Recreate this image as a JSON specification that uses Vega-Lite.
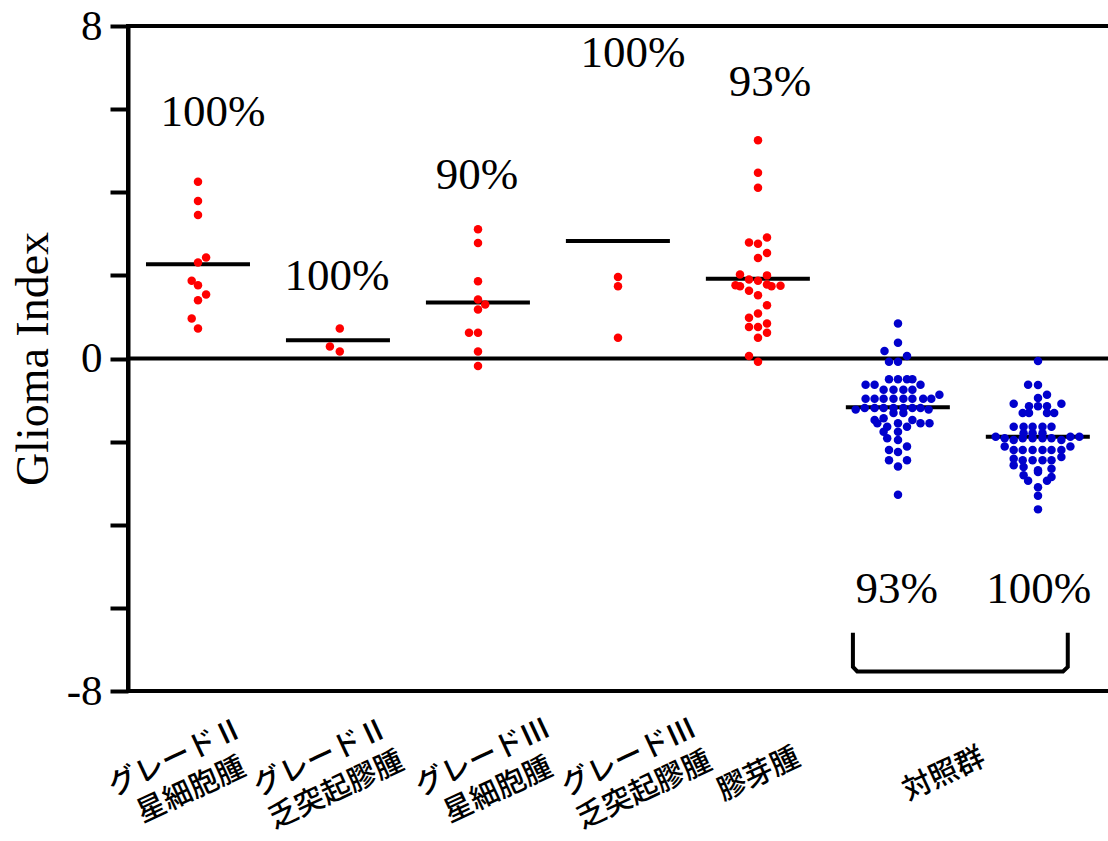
{
  "$schema": "https://vega.github.io/schema/vega-lite/v6.json",
  "autosize": "none",
  "width": 984,
  "height": 665,
  "padding": {"left": 128, "top": 26, "right": 0, "bottom": 150},
  "background": "white",
  "config": {"view": {"stroke": "black", "strokeWidth": 4}},
  "resolve": {"scale": {"x": "independent"}},
  "datasets": {
    "pts": [
      {"group":1,"value":4.25,"slot":0,"type":"tumor"},
      {"group":1,"value":3.79,"slot":0,"type":"tumor"},
      {"group":1,"value":3.45,"slot":0,"type":"tumor"},
      {"group":1,"value":2.43,"slot":0.9,"type":"tumor"},
      {"group":1,"value":2.31,"slot":0,"type":"tumor"},
      {"group":1,"value":1.87,"slot":-0.7,"type":"tumor"},
      {"group":1,"value":1.76,"slot":0,"type":"tumor"},
      {"group":1,"value":1.54,"slot":0.9,"type":"tumor"},
      {"group":1,"value":1.40,"slot":0,"type":"tumor"},
      {"group":1,"value":0.96,"slot":-0.7,"type":"tumor"},
      {"group":1,"value":0.72,"slot":0,"type":"tumor"},
      {"group":2,"value":0.72,"slot":0.2,"type":"tumor"},
      {"group":2,"value":0.29,"slot":-0.9,"type":"tumor"},
      {"group":2,"value":0.17,"slot":0.2,"type":"tumor"},
      {"group":3,"value":3.11,"slot":0,"type":"tumor"},
      {"group":3,"value":2.78,"slot":0,"type":"tumor"},
      {"group":3,"value":1.86,"slot":0,"type":"tumor"},
      {"group":3,"value":1.42,"slot":0,"type":"tumor"},
      {"group":3,"value":1.30,"slot":0.8,"type":"tumor"},
      {"group":3,"value":1.18,"slot":0,"type":"tumor"},
      {"group":3,"value":0.62,"slot":-1,"type":"tumor"},
      {"group":3,"value":0.62,"slot":0,"type":"tumor"},
      {"group":3,"value":0.17,"slot":0,"type":"tumor"},
      {"group":3,"value":-0.18,"slot":0,"type":"tumor"},
      {"group":4,"value":1.96,"slot":0,"type":"tumor"},
      {"group":4,"value":1.74,"slot":0,"type":"tumor"},
      {"group":4,"value":0.50,"slot":0,"type":"tumor"},
      {"group":5,"value":5.25,"slot":0,"type":"tumor"},
      {"group":5,"value":4.47,"slot":0,"type":"tumor"},
      {"group":5,"value":4.11,"slot":0,"type":"tumor"},
      {"group":5,"value":2.91,"slot":1,"type":"tumor"},
      {"group":5,"value":2.79,"slot":-1,"type":"tumor"},
      {"group":5,"value":2.76,"slot":0,"type":"tumor"},
      {"group":5,"value":2.54,"slot":1,"type":"tumor"},
      {"group":5,"value":2.42,"slot":0,"type":"tumor"},
      {"group":5,"value":2.02,"slot":-2,"type":"tumor"},
      {"group":5,"value":2.00,"slot":1,"type":"tumor"},
      {"group":5,"value":1.90,"slot":-1,"type":"tumor"},
      {"group":5,"value":1.87,"slot":0,"type":"tumor"},
      {"group":5,"value":1.76,"slot":-2.5,"type":"tumor"},
      {"group":5,"value":1.74,"slot":-2,"type":"tumor"},
      {"group":5,"value":1.78,"slot":1,"type":"tumor"},
      {"group":5,"value":1.74,"slot":1.5,"type":"tumor"},
      {"group":5,"value":1.75,"slot":2.5,"type":"tumor"},
      {"group":5,"value":1.63,"slot":-1,"type":"tumor"},
      {"group":5,"value":1.52,"slot":0,"type":"tumor"},
      {"group":5,"value":1.28,"slot":1,"type":"tumor"},
      {"group":5,"value":1.08,"slot":0,"type":"tumor"},
      {"group":5,"value":0.98,"slot":-1,"type":"tumor"},
      {"group":5,"value":0.76,"slot":-1,"type":"tumor"},
      {"group":5,"value":0.76,"slot":0,"type":"tumor"},
      {"group":5,"value":0.84,"slot":1,"type":"tumor"},
      {"group":5,"value":0.62,"slot":1,"type":"tumor"},
      {"group":5,"value":0.50,"slot":0,"type":"tumor"},
      {"group":5,"value":0.06,"slot":-1,"type":"tumor"},
      {"group":5,"value":-0.08,"slot":0,"type":"tumor"},
      {"group":6,"value":0.84,"slot":0,"type":"control"},
      {"group":6,"value":0.38,"slot":0,"type":"control"},
      {"group":6,"value":0.18,"slot":-1.5,"type":"control"},
      {"group":6,"value":0.06,"slot":1,"type":"control"},
      {"group":6,"value":-0.08,"slot":-1,"type":"control"},
      {"group":6,"value":-0.08,"slot":0,"type":"control"},
      {"group":6,"value":-0.50,"slot":-1,"type":"control"},
      {"group":6,"value":-0.50,"slot":0,"type":"control"},
      {"group":6,"value":-0.50,"slot":1,"type":"control"},
      {"group":6,"value":-0.50,"slot":1.6,"type":"control"},
      {"group":6,"value":-0.63,"slot":-3.6,"type":"control"},
      {"group":6,"value":-0.63,"slot":-2.6,"type":"control"},
      {"group":6,"value":-0.63,"slot":2.5,"type":"control"},
      {"group":6,"value":-0.75,"slot":-1.6,"type":"control"},
      {"group":6,"value":-0.75,"slot":-0.5,"type":"control"},
      {"group":6,"value":-0.75,"slot":0.6,"type":"control"},
      {"group":6,"value":-0.75,"slot":1.6,"type":"control"},
      {"group":6,"value":-0.97,"slot":-3.6,"type":"control"},
      {"group":6,"value":-0.97,"slot":-2.6,"type":"control"},
      {"group":6,"value":-0.97,"slot":-1.6,"type":"control"},
      {"group":6,"value":-0.97,"slot":-0.5,"type":"control"},
      {"group":6,"value":-0.97,"slot":0.6,"type":"control"},
      {"group":6,"value":-0.97,"slot":1.6,"type":"control"},
      {"group":6,"value":-0.97,"slot":2.8,"type":"control"},
      {"group":6,"value":-0.97,"slot":3.7,"type":"control"},
      {"group":6,"value":-0.87,"slot":4.6,"type":"control"},
      {"group":6,"value":-1.23,"slot":-4.7,"type":"control"},
      {"group":6,"value":-1.19,"slot":-3.7,"type":"control"},
      {"group":6,"value":-1.19,"slot":-2.6,"type":"control"},
      {"group":6,"value":-1.19,"slot":-1.6,"type":"control"},
      {"group":6,"value":-1.19,"slot":-0.5,"type":"control"},
      {"group":6,"value":-1.19,"slot":0.6,"type":"control"},
      {"group":6,"value":-1.19,"slot":1.6,"type":"control"},
      {"group":6,"value":-1.19,"slot":2.5,"type":"control"},
      {"group":6,"value":-1.23,"slot":3.4,"type":"control"},
      {"group":6,"value":-1.48,"slot":-2.6,"type":"control"},
      {"group":6,"value":-1.44,"slot":-1.6,"type":"control"},
      {"group":6,"value":-1.31,"slot":-0.5,"type":"control"},
      {"group":6,"value":-1.31,"slot":0.6,"type":"control"},
      {"group":6,"value":-1.48,"slot":1.6,"type":"control"},
      {"group":6,"value":-1.56,"slot":2.5,"type":"control"},
      {"group":6,"value":-1.56,"slot":3.5,"type":"control"},
      {"group":6,"value":-1.56,"slot":-2.3,"type":"control"},
      {"group":6,"value":-1.64,"slot":-1.2,"type":"control"},
      {"group":6,"value":-1.56,"slot":0,"type":"control"},
      {"group":6,"value":-1.64,"slot":1,"type":"control"},
      {"group":6,"value":-1.76,"slot":-1.6,"type":"control"},
      {"group":6,"value":-1.76,"slot":0,"type":"control"},
      {"group":6,"value":-1.92,"slot":-1.2,"type":"control"},
      {"group":6,"value":-1.96,"slot":0,"type":"control"},
      {"group":6,"value":-2.20,"slot":-1,"type":"control"},
      {"group":6,"value":-2.12,"slot":1,"type":"control"},
      {"group":6,"value":-2.25,"slot":0,"type":"control"},
      {"group":6,"value":-2.45,"slot":-1,"type":"control"},
      {"group":6,"value":-2.45,"slot":1,"type":"control"},
      {"group":6,"value":-2.60,"slot":0,"type":"control"},
      {"group":6,"value":-3.28,"slot":0,"type":"control"},
      {"group":7,"value":-0.06,"slot":0,"type":"control"},
      {"group":7,"value":-0.63,"slot":-1.1,"type":"control"},
      {"group":7,"value":-0.64,"slot":0,"type":"control"},
      {"group":7,"value":-0.95,"slot":0,"type":"control"},
      {"group":7,"value":-0.87,"slot":1,"type":"control"},
      {"group":7,"value":-1.09,"slot":-2.7,"type":"control"},
      {"group":7,"value":-1.15,"slot":-1,"type":"control"},
      {"group":7,"value":-1.15,"slot":0,"type":"control"},
      {"group":7,"value":-1.15,"slot":1,"type":"control"},
      {"group":7,"value":-1.09,"slot":2.6,"type":"control"},
      {"group":7,"value":-1.31,"slot":-1.7,"type":"control"},
      {"group":7,"value":-1.31,"slot":-1,"type":"control"},
      {"group":7,"value":-1.31,"slot":1,"type":"control"},
      {"group":7,"value":-1.31,"slot":1.8,"type":"control"},
      {"group":7,"value":-1.64,"slot":-2.7,"type":"control"},
      {"group":7,"value":-1.64,"slot":-1.6,"type":"control"},
      {"group":7,"value":-1.64,"slot":-0.6,"type":"control"},
      {"group":7,"value":-1.64,"slot":0.5,"type":"control"},
      {"group":7,"value":-1.64,"slot":1.5,"type":"control"},
      {"group":7,"value":-1.80,"slot":-1.6,"type":"control"},
      {"group":7,"value":-1.80,"slot":-0.6,"type":"control"},
      {"group":7,"value":-1.80,"slot":0.5,"type":"control"},
      {"group":7,"value":-1.88,"slot":-4.7,"type":"control"},
      {"group":7,"value":-1.92,"slot":-3.7,"type":"control"},
      {"group":7,"value":-1.96,"slot":-2.7,"type":"control"},
      {"group":7,"value":-1.92,"slot":-1.7,"type":"control"},
      {"group":7,"value":-1.92,"slot":-0.6,"type":"control"},
      {"group":7,"value":-1.92,"slot":0.5,"type":"control"},
      {"group":7,"value":-1.92,"slot":1.5,"type":"control"},
      {"group":7,"value":-1.96,"slot":2.6,"type":"control"},
      {"group":7,"value":-1.88,"slot":3.6,"type":"control"},
      {"group":7,"value":-1.88,"slot":4.6,"type":"control"},
      {"group":7,"value":-2.12,"slot":-3.7,"type":"control"},
      {"group":7,"value":-2.20,"slot":-2.7,"type":"control"},
      {"group":7,"value":-2.20,"slot":-1.7,"type":"control"},
      {"group":7,"value":-2.20,"slot":-0.6,"type":"control"},
      {"group":7,"value":-2.20,"slot":0.5,"type":"control"},
      {"group":7,"value":-2.20,"slot":1.5,"type":"control"},
      {"group":7,"value":-2.20,"slot":2.6,"type":"control"},
      {"group":7,"value":-2.12,"slot":3.6,"type":"control"},
      {"group":7,"value":-2.41,"slot":-2.7,"type":"control"},
      {"group":7,"value":-2.45,"slot":-1.7,"type":"control"},
      {"group":7,"value":-2.45,"slot":-0.6,"type":"control"},
      {"group":7,"value":-2.45,"slot":0.5,"type":"control"},
      {"group":7,"value":-2.45,"slot":1.5,"type":"control"},
      {"group":7,"value":-2.37,"slot":2.6,"type":"control"},
      {"group":7,"value":-2.57,"slot":-2.7,"type":"control"},
      {"group":7,"value":-2.61,"slot":-1.6,"type":"control"},
      {"group":7,"value":-2.69,"slot":0,"type":"control"},
      {"group":7,"value":-2.65,"slot":1.5,"type":"control"},
      {"group":7,"value":-2.81,"slot":-1.6,"type":"control"},
      {"group":7,"value":-2.73,"slot":0,"type":"control"},
      {"group":7,"value":-2.85,"slot":1.5,"type":"control"},
      {"group":7,"value":-2.94,"slot":-1.1,"type":"control"},
      {"group":7,"value":-2.94,"slot":1,"type":"control"},
      {"group":7,"value":-3.10,"slot":0,"type":"control"},
      {"group":7,"value":-3.30,"slot":0,"type":"control"},
      {"group":7,"value":-3.63,"slot":0,"type":"control"}
    ],
    "means": [
      {"group":1,"mean":2.27},
      {"group":2,"mean":0.44},
      {"group":3,"mean":1.35},
      {"group":4,"mean":2.83},
      {"group":5,"mean":1.92},
      {"group":6,"mean":-1.17},
      {"group":7,"mean":-1.88}
    ],
    "pct": [
      {"x":1.107,"y":5.6,"text":"100%"},
      {"x":1.993,"y":1.65,"text":"100%"},
      {"x":2.993,"y":4.09,"text":"90%"},
      {"x":4.107,"y":7.01,"text":"100%"},
      {"x":5.086,"y":6.32,"text":"93%"},
      {"x":5.993,"y":-5.89,"text":"93%"},
      {"x":7.007,"y":-5.89,"text":"100%"}
    ],
    "cats": [
      {"x":0.843,"y":-9.6,"label":"グレードⅡ\n星細胞腫"},
      {"x":1.879,"y":-9.6,"label":"グレードⅡ\n乏突起膠腫"},
      {"x":3.036,"y":-9.6,"label":"グレードⅢ\n星細胞腫"},
      {"x":4.079,"y":-9.6,"label":"グレードⅢ\n乏突起膠腫"},
      {"x":5.007,"y":-10.0,"label":"膠芽腫"},
      {"x":6.329,"y":-10.0,"label":"対照群"}
    ],
    "bracket": [
      {"order":1,"x":5.679,"y":-6.6},
      {"order":2,"x":5.679,"y":-7.42},
      {"order":3,"x":5.71,"y":-7.53},
      {"order":4,"x":7.18,"y":-7.53},
      {"order":5,"x":7.214,"y":-7.42},
      {"order":6,"x":7.214,"y":-6.6}
    ]
  },
  "layer": [
    {
      "data": {"values": [{"zero": 0}]},
      "mark": {"type": "rule", "color": "black", "strokeWidth": 4},
      "encoding": {
        "y": {"field": "zero", "type": "quantitative", "scale": {"domain": [-8, 8], "nice": false, "zero": false}, "title": "Glioma Index"}
      }
    },
    {
      "data": {"name": "means"},
      "mark": {"type": "tick", "orient": "horizontal", "color": "black", "size": 104, "thickness": 4, "opacity": 1},
      "encoding": {
        "x": {"field": "group", "type": "quantitative", "scale": {"domain": [0.5, 7.53], "nice": false, "zero": false}, "axis": null},
        "y": {"field": "mean", "type": "quantitative", "scale": {"domain": [-8, 8], "nice": false, "zero": false}, "title": "Glioma Index"}
      }
    },
    {
      "data": {"name": "pts"},
      "mark": {"type": "circle", "size": 72, "opacity": 1, "strokeWidth": 0},
      "encoding": {
        "x": {"field": "group", "type": "ordinal", "scale": {"range": [0, 980], "paddingInner": 0, "paddingOuter": 0}, "axis": null},
        "xOffset": {"field": "slot", "type": "quantitative", "scale": {"domain": [-7.778, 7.778], "range": [0, 140]}},
        "y": {
          "field": "value", "type": "quantitative",
          "scale": {"domain": [-8, 8], "nice": false, "zero": false},
          "title": "Glioma Index",
          "axis": {
            "values": [-8, -6, -4, -2, 0, 2, 4, 6, 8],
            "labelExpr": "datum.value % 8 === 0 ? '' + datum.value : ''",
            "grid": false,
            "domain": true, "domainColor": "black", "domainWidth": 4,
            "ticks": true, "tickColor": "black", "tickWidth": 4, "tickSize": 18,
            "labelFont": "Liberation Serif, Times New Roman, DejaVu Serif, serif", "labelFontSize": 43, "labelColor": "black", "labelPadding": 8,
            "titleFont": "Liberation Serif, Times New Roman, DejaVu Serif, serif", "titleFontSize": 46, "titleFontWeight": "normal", "titleColor": "black", "titlePadding": 9
          }
        },
        "color": {"field": "type", "type": "nominal", "scale": {"domain": ["tumor", "control"], "range": ["#ff0000", "#0000cc"]}, "legend": null}
      }
    },
    {
      "data": {"name": "pct"},
      "mark": {"type": "text", "font": "Liberation Serif, Times New Roman, DejaVu Serif, serif", "fontSize": 45, "color": "black", "align": "center", "baseline": "alphabetic"},
      "encoding": {
        "x": {"field": "x", "type": "quantitative", "scale": {"domain": [0.5, 7.53], "nice": false, "zero": false}, "axis": null},
        "y": {"field": "y", "type": "quantitative", "scale": {"domain": [-8, 8], "nice": false, "zero": false}, "title": "Glioma Index"},
        "text": {"field": "text"}
      }
    },
    {
      "data": {"name": "cats"},
      "mark": {"type": "text", "font": "Noto Sans CJK JP", "fontSize": 29, "fontWeight": 500, "color": "black", "align": "center", "baseline": "middle", "angle": -25, "lineBreak": "\n", "lineHeight": 36},
      "encoding": {
        "x": {"field": "x", "type": "quantitative", "scale": {"domain": [0.5, 7.53], "nice": false, "zero": false}, "axis": null},
        "y": {"field": "y", "type": "quantitative", "scale": {"domain": [-8, 8], "nice": false, "zero": false}, "title": "Glioma Index"},
        "text": {"field": "label"}
      }
    },
    {
      "data": {"name": "bracket"},
      "mark": {"type": "line", "color": "black", "strokeWidth": 4, "interpolate": "linear"},
      "encoding": {
        "x": {"field": "x", "type": "quantitative", "scale": {"domain": [0.5, 7.53], "nice": false, "zero": false}, "axis": null},
        "y": {"field": "y", "type": "quantitative", "scale": {"domain": [-8, 8], "nice": false, "zero": false}, "title": "Glioma Index"},
        "order": {"field": "order", "type": "quantitative"}
      }
    }
  ]
}
